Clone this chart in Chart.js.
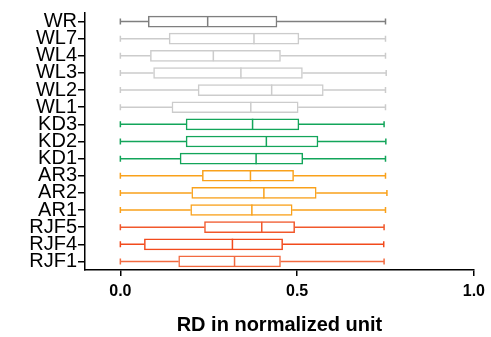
<!DOCTYPE html>
<html>
<head>
<meta charset="utf-8">
<script src="https://cdn.jsdelivr.net/npm/chart.js@4"></script>
<style>
html,body{margin:0;padding:0;background:#fff;}
#wrap{width:491px;height:337px;}
</style>
</head>
<body>
<div id="wrap"><canvas id="c" width="491" height="337"></canvas></div>
<script>
const categories = ['WR','WL7','WL4','WL3','WL2','WL1','KD3','KD2','KD1','AR3','AR2','AR1','RJF5','RJF4','RJF1'];
const mins    = [0,0,0,0,0,0,0,0,0,0,0,0,0,0,0];
const q1s     = [0.079,0.138,0.085,0.094,0.220,0.146,0.186,0.186,0.169,0.232,0.202,0.199,0.238,0.068,0.165];
const medians = [0.247,0.378,0.263,0.341,0.428,0.369,0.374,0.413,0.384,0.368,0.406,0.372,0.400,0.317,0.323];
const q3s     = [0.443,0.505,0.453,0.515,0.574,0.503,0.505,0.559,0.516,0.490,0.554,0.486,0.493,0.459,0.453];
const maxs    = [0.750,0.750,0.750,0.752,0.750,0.750,0.746,0.751,0.750,0.750,0.754,0.750,0.746,0.745,0.746];
const colors  = ['#7f7f7f','#cccccc','#cccccc','#cccccc','#cccccc','#cccccc',
                 '#13a55a','#13a55a','#13a55a','#f9a11b','#f9a11b','#f9a11b',
                 '#f1582c','#f24a1c','#f26a40'];
const xTicks = [0, 0.5, 1.0];

const whiskerPlugin = {
  id: 'whiskers',
  afterDatasetsDraw(chart) {
    const ctx = chart.ctx;
    const xs = chart.scales.x, ys = chart.scales.y;
    const cap = 3;
    ctx.save();
    ctx.lineWidth = 1.5;
    categories.forEach((c, i) => {
      const y = ys.getPixelForValue(i);
      const xMin = xs.getPixelForValue(mins[i]);
      const xQ1 = xs.getPixelForValue(q1s[i]);
      const xMed = xs.getPixelForValue(medians[i]);
      const xQ3 = xs.getPixelForValue(q3s[i]);
      const xMax = xs.getPixelForValue(maxs[i]);
      const half = 5.5;
      ctx.strokeStyle = colors[i];
      ctx.beginPath();
      ctx.moveTo(xMin, y); ctx.lineTo(xQ1, y);
      ctx.moveTo(xQ3, y); ctx.lineTo(xMax, y);
      ctx.moveTo(xMin, y - cap); ctx.lineTo(xMin, y + cap);
      ctx.moveTo(xMax, y - cap); ctx.lineTo(xMax, y + cap);
      ctx.moveTo(xMed, y - half); ctx.lineTo(xMed, y + half);
      ctx.stroke();
    });
    ctx.restore();
  }
};

new Chart(document.getElementById('c'), {
  type: 'bar',
  data: {
    labels: categories,
    datasets: [{
      data: categories.map((c, i) => [q1s[i], q3s[i]]),
      backgroundColor: '#ffffff',
      borderColor: colors,
      borderWidth: 1.5,
      borderSkipped: false,
      barThickness: 11
    }]
  },
  plugins: [whiskerPlugin],
  options: {
    indexAxis: 'y',
    responsive: false,
    animation: false,
    events: [],
    layout: { padding: { top: 10, right: 17, left: 0, bottom: 0 } },
    plugins: { legend: { display: false }, tooltip: { enabled: false } },
    scales: {
      x: {
        type: 'linear',
        min: -0.1,
        max: 1.0,
        afterBuildTicks: (s) => { s.ticks = xTicks.map(v => ({ value: v })); },
        afterFit: (s) => { s.height = 67; },
        grid: { drawOnChartArea: false, drawTicks: true, tickLength: 6, color: '#000', lineWidth: 1.5 },
        border: { display: true, color: '#000', width: 1.5 },
        ticks: {
          color: '#000',
          padding: 6,
          font: { family: 'Liberation Sans, Arial, sans-serif', size: 16, weight: 'bold' },
          callback: (v) => Number(v).toFixed(1),
          maxRotation: 0
        },
        title: {
          display: true,
          text: 'RD in normalized unit',
          color: '#000',
          font: { family: 'Liberation Sans, Arial, sans-serif', size: 20, weight: 'bold' },
          padding: { top: 0, bottom: 0 }
        }
      },
      y: {
        afterFit: (s) => { s.width = 85; },
        grid: { offset: false, drawOnChartArea: false, drawTicks: true, tickLength: 7, color: '#000', lineWidth: 1.5 },
        border: { display: true, color: '#000', width: 1.5 },
        ticks: {
          color: '#000',
          padding: 1,
          font: { family: 'Liberation Sans, Arial, sans-serif', size: 20 },
          autoSkip: false
        }
      }
    }
  }
});
</script>
</body>
</html>
